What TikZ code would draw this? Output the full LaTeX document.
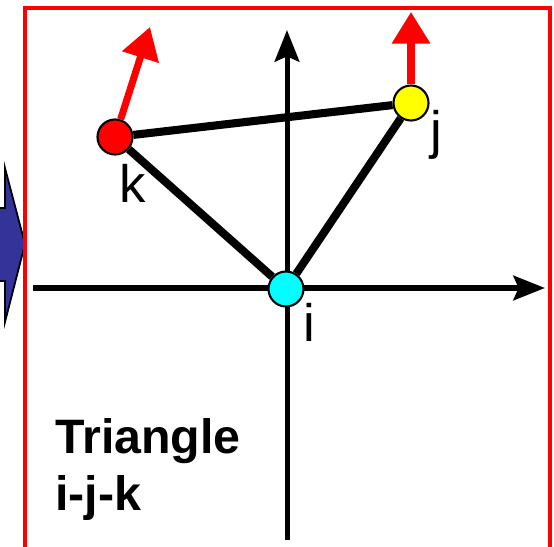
\documentclass[tikz,border=0pt]{standalone}
\usepackage{fontspec}
\setmainfont{Liberation Sans}
\usetikzlibrary{arrows.meta}
\definecolor{vecred}{HTML}{FF0000}
\definecolor{shiftblue}{HTML}{333399}
\definecolor{pointcyan}{HTML}{00FFFF}
\definecolor{pointyellow}{HTML}{FFFF00}

\begin{document}
\begin{tikzpicture}[x=0.02cm, y=-0.02cm,
    axisStyle/.style={line width=2.85pt, -{Stealth[length=18pt, width=14pt, inset=3pt]}},
    edgeStyle/.style={line width=4.6pt},
    vecStyle/.style={line width=4pt, draw=vecred, -{Triangle[length=18pt, width=21pt]}},
    vertexStyle/.style={circle, draw=black, line width=1.2pt, minimum size=0.7cm, inner sep=0pt},
    labelStyle/.style={inner sep=0pt, font=\fontsize{30}{36}\selectfont},
    titleStyle/.style={inner sep=0pt, align=left, font=\fontsize{27.5}{32.4}\selectfont\bfseries}
]
    \clip (0,0) rectangle (554,547);
    \useasboundingbox (0,0) rectangle (554,547);

    % shift arrow and frame
    \filldraw[fill=shiftblue, draw=black, line width=1pt]
        (-10,208) -- (5,208) -- (5,168) -- (25,244) -- (5,322) -- (5,281) -- (-10,281) -- cycle;
    \draw[draw=vecred, line width=2.3pt] (25,8) rectangle (550,600);

    % Axes
    \coordinate (xl) at (33,288);
    \coordinate (xr) at (545,288);
    \coordinate (yb) at (287,540);
    \coordinate (yt) at (287,30);
    \draw[axisStyle] (xl) -- (xr);
    \draw[axisStyle] (yb) -- (yt);

    % Vertices
    \node[vertexStyle, fill=pointcyan] (i) at (286,289) {};
    \node[vertexStyle, fill=pointyellow] (j) at (411,103) {};
    \node[vertexStyle, fill=vecred] (k) at (115,137) {};

    % Edges
    \draw[edgeStyle] (k) -- (j);
    \draw[edgeStyle] (k) -- (i);
    \draw[edgeStyle] (i) -- (j);

    % Vectors
    \coordinate (kv) at (150,27);
    \coordinate (jv) at (411,12);
    \draw[vecStyle] (k) -- (kv);
    \draw[vecStyle] (j) -- (jv);

    % Labels
    \node[labelStyle] (labelK) at (133,183) {k};
    \node[labelStyle] (labelJ) at (436,135) {j};
    \node[labelStyle] (labelI) at (309,322) {i};
    \node[titleStyle, anchor=north west] (title) at (55,418) {Triangle\\i-j-k};
\end{tikzpicture}
\end{document}
